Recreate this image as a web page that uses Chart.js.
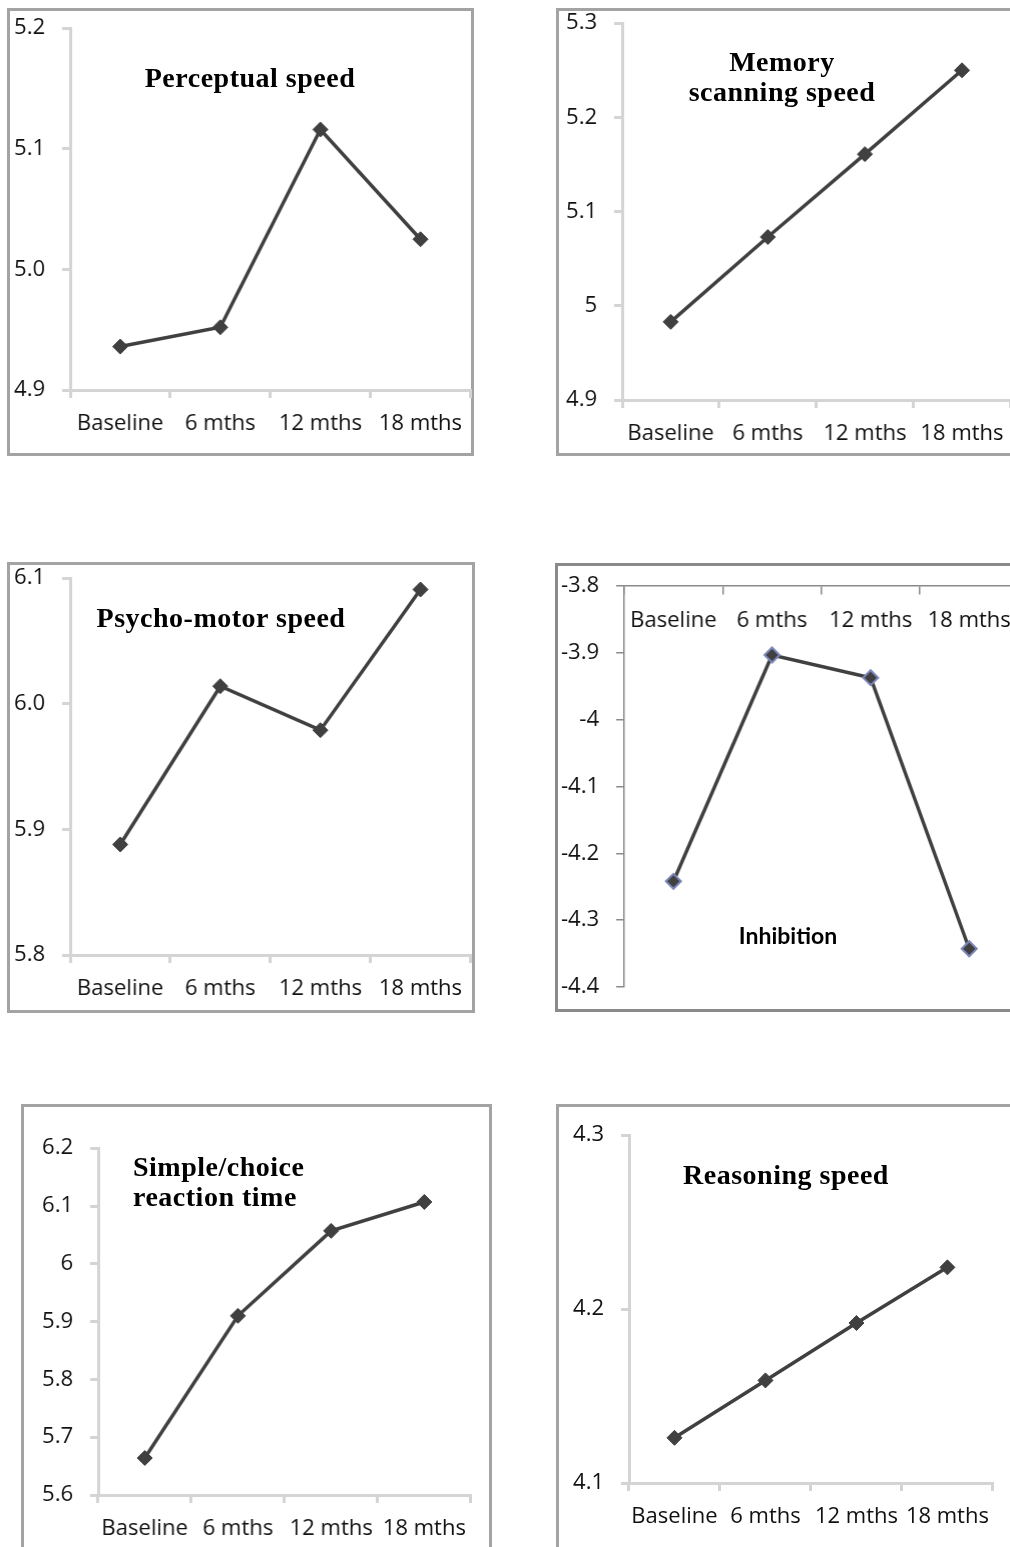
<!DOCTYPE html>
<html>
<head>
<meta charset="utf-8">
<script src="https://cdn.jsdelivr.net/npm/chart.js@4.4.1/dist/chart.umd.min.js"></script>
<style>
  body { margin: 0; width: 1010px; height: 1547px; overflow: hidden; background: #fff; position: relative; }
  .box { position: absolute; border: 3px solid #a3a3a3; box-sizing: border-box; }
  .chart { position: absolute; }
  .title { position: absolute; font-family: "Liberation Serif", serif; font-weight: bold; font-size: 28px; letter-spacing: 0.5px; line-height: 30px; color: #000; white-space: nowrap; }
  .center { width: 400px; text-align: center; }
</style>
</head>
<body>

<div class="box" style="left:7px;top:8px;width:467px;height:448px"></div>
<div class="box" style="left:556px;top:8px;width:470px;height:448px"></div>
<div class="box" style="left:7px;top:562px;width:468px;height:451px"></div>
<div class="box" style="left:555px;top:563px;width:470px;height:449px;border-color:#8a8a8a"></div>
<div class="box" style="left:21px;top:1104px;width:471px;height:460px"></div>
<div class="box" style="left:556px;top:1104px;width:470px;height:460px"></div>

<canvas id="c1" class="chart"></canvas>
<canvas id="c2" class="chart"></canvas>
<canvas id="c3" class="chart"></canvas>
<canvas id="c4" class="chart"></canvas>
<canvas id="c5" class="chart"></canvas>
<canvas id="c6" class="chart"></canvas>

<div class="title center" style="left:50px;top:63px">Perceptual speed</div>
<div class="title center" style="left:582px;top:47px">Memory<br>scanning speed</div>
<div class="title center" style="left:21px;top:603px">Psycho-motor speed</div>
<div class="title center" style="left:588px;top:920px;font-family:Lato, sans-serif;font-size:23px;letter-spacing:0">Inhibition</div>
<div class="title" style="left:133px;top:1152px">Simple/choice<br>reaction time</div>
<div class="title center" style="left:586px;top:1160px">Reasoning speed</div>

<script>
const timepoints = ['Baseline', '6 mths', '12 mths', '18 mths'];

const perceptualSpeed = [4.936, 4.952, 5.116, 5.025];
const perceptualTicks = [4.9, 5.0, 5.1, 5.2];
const perceptualLabels = ['4.9', '5.0', '5.1', '5.2'];

const memoryScanning = [4.983, 5.073, 5.161, 5.250];
const memoryTicks = [4.9, 5.0, 5.1, 5.2, 5.3];
const memoryLabels = ['4.9', '5', '5.1', '5.2', '5.3'];

const psychoMotor = [5.888, 6.014, 5.979, 6.091];
const psychoTicks = [5.8, 5.9, 6.0, 6.1];
const psychoLabels = ['5.8', '5.9', '6.0', '6.1'];

const inhibition = [-4.242, -3.903, -3.937, -4.343];
const inhibitionTicks = [-4.4, -4.3, -4.2, -4.1, -4.0, -3.9, -3.8];
const inhibitionLabels = ['-4.4', '-4.3', '-4.2', '-4.1', '-4', '-3.9', '-3.8'];

const reactionTime = [5.664, 5.910, 6.057, 6.107];
const reactionTicks = [5.6, 5.7, 5.8, 5.9, 6.0, 6.1, 6.2];
const reactionLabels = ['5.6', '5.7', '5.8', '5.9', '6', '6.1', '6.2'];

const reasoningSpeed = [4.126, 4.159, 4.192, 4.224];
const reasoningTicks = [4.1, 4.2, 4.3];
const reasoningLabels = ['4.1', '4.2', '4.3'];

const FONT_SIZE = 22;
const Y_AXIS_W = 70;
const X_AXIS_H = 60;

function setBox(cv, left, top, w, h) {
    cv.style.left = left + 'px';
    cv.style.top = top + 'px';
    cv.style.width = w + 'px';
    cv.style.height = h + 'px';
    cv.width = w;
    cv.height = h;
}

function buildConfig(values, tickVals, tickLabels, opts) {
    const axisColor = opts.axisColor || '#d4d4d4';
    const axisWidth = opts.axisWidth || 3;
    const font = { family: '"Open Sans", sans-serif', size: FONT_SIZE };

    const xScale = {
        type: 'category',
        offset: true,
        grid: { offset: true, drawOnChartArea: false, drawTicks: true, tickLength: 8, color: axisColor, lineWidth: axisWidth },
        border: { display: true, color: axisColor, width: axisWidth },
        ticks: { color: '#111', font: font, padding: 13, maxRotation: 0, autoSkip: false },
        afterFit: s => { s.height = X_AXIS_H; }
    };
    if (opts.xAtTop) {
        xScale.position = { y: tickVals[tickVals.length - 1] };
    }

    return {
        type: 'line',
        data: {
            labels: timepoints,
            datasets: [{
                data: values,
                borderColor: '#404040',
                borderWidth: 3.5,
                pointStyle: 'rectRot',
                pointRadius: 7.5,
                pointBackgroundColor: '#404040',
                pointBorderColor: opts.markerEdge || '#404040',
                pointBorderWidth: opts.markerEdge ? 2 : 1,
                tension: 0
            }]
        },
        options: {
            responsive: false,
            maintainAspectRatio: false,
            animation: false,
            layout: { padding: 0 },
            plugins: { legend: { display: false }, tooltip: { enabled: false } },
            scales: {
                x: xScale,
                y: {
                    type: 'linear',
                    min: tickVals[0],
                    max: tickVals[tickVals.length - 1],
                    grid: { drawOnChartArea: false, drawTicks: true, tickLength: 8, color: axisColor, lineWidth: axisWidth },
                    border: { display: true, color: axisColor, width: axisWidth },
                    ticks: {
                        color: '#111',
                        font: font,
                        padding: 17,
                        callback: (v, i) => tickLabels[i]
                    },
                    afterBuildTicks: s => { s.ticks = tickVals.map(v => ({ value: v })); },
                    afterFit: s => { s.width = Y_AXIS_W; }
                }
            }
        }
    };
}

// area = [left, top, right, bottom] of the plot area on the page
function makeChart(id, area, values, tickVals, tickLabels, opts) {
    opts = opts || {};
    const cv = document.getElementById(id);
    let left = area[0] - Y_AXIS_W, top = area[1] - 20;
    let w = area[2] - area[0] + Y_AXIS_W + 4;
    let h = area[3] - area[1] + 20 + (opts.xAtTop ? 20 : X_AXIS_H);
    setBox(cv, left, top, w, h);
    let chart = new Chart(cv, buildConfig(values, tickVals, tickLabels, opts));

    // first pass tells how much room the axes took; resize so the plot area lands on `area`
    const ca = chart.chartArea;
    const dLeft = area[0] - (left + ca.left);
    const dTop = area[1] - (top + ca.top);
    const dW = (area[2] - area[0]) - (ca.right - ca.left);
    const dH = (area[3] - area[1]) - (ca.bottom - ca.top);
    chart.destroy();
    left += dLeft; top += dTop; w += dW; h += dH;
    setBox(cv, left, top, w, h);
    return new Chart(cv, buildConfig(values, tickVals, tickLabels, opts));
}

makeChart('c1', [70, 28, 470, 390], perceptualSpeed, perceptualTicks, perceptualLabels);
makeChart('c2', [622, 23, 1010, 400], memoryScanning, memoryTicks, memoryLabels);
makeChart('c3', [70, 578, 470, 955], psychoMotor, psychoTicks, psychoLabels);
makeChart('c4', [624, 586, 1018, 987], inhibition, inhibitionTicks, inhibitionLabels,
    { xAtTop: true, axisColor: '#8a8a8a', axisWidth: 1.5, markerEdge: '#7b86b8' });
makeChart('c5', [98, 1148, 470, 1495], reactionTime, reactionTicks, reactionLabels);
makeChart('c6', [629, 1135, 992, 1483], reasoningSpeed, reasoningTicks, reasoningLabels);
</script>
</body>
</html>
